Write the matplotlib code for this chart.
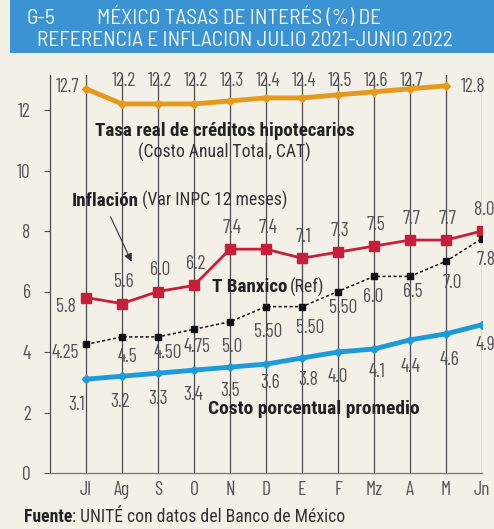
import matplotlib
matplotlib.use("Agg")
import matplotlib.pyplot as plt
from matplotlib import font_manager as fm
from matplotlib.patches import Rectangle
import numpy as np

names = {f.name for f in fm.fontManager.ttflist}
def pick(cands):
    for c in cands:
        if c in names:
            return c
    return "DejaVu Sans"

NUMF = pick(["Barlow Condensed", "Roboto Condensed", "PT Sans Narrow", "Archivo Narrow", "Oswald"])
ANNF = pick(["Roboto Condensed", "Barlow Semi Condensed", "PT Sans Narrow", "Archivo Narrow"])
TITF = pick(["Barlow Semi Condensed", "Barlow Condensed", "Roboto Condensed"])
plt.rcParams['font.family'] = [NUMF, 'DejaVu Sans']

months = ["Jl", "Ag", "S", "O", "N", "D", "E", "F", "Mz", "A", "M", "Jn"]
cat = [12.7, 12.2, 12.2, 12.2, 12.3, 12.4, 12.4, 12.5, 12.6, 12.7, 12.8, np.nan]
inflacion = [5.8, 5.6, 6.0, 6.2, 7.4, 7.4, 7.1, 7.3, 7.5, 7.7, 7.7, 8.0]
banxico = [4.25, 4.5, 4.5, 4.75, 5.0, 5.5, 5.5, 6.0, 6.5, 6.5, 7.0, 7.75]
banxico_labels = ["4.25", "4.5", "4.50", "4.75", "5.0", "5.50", "5.50", "5.50", "6.0", "6.5", "7.0", "7.8"]
cpp = [3.1, 3.2, 3.3, 3.4, 3.5, 3.6, 3.8, 4.0, 4.1, 4.4, 4.6, 4.9]
yticks = [0, 2, 4, 6, 8, 10, 12]

BG = "#f3f0e8"
ORANGE = "#e39a1e"
RED = "#c61f3c"
BLUE = "#1f9ad8"
GRAYTXT = "#555555"

fig = plt.figure(figsize=(4.94, 5.29), dpi=100, facecolor=BG)
ax = fig.add_axes([50/494, 1-473/529, 432/494, (473-75)/529])
ax.set_facecolor(BG)
x = np.arange(len(months))
ax.set_xlim(-1, 11)
ax.set_ylim(0, (473-75)/30.25)

for xi in x:
    ax.axvline(xi, color="#4a4a4a", lw=0.9, zorder=1)

for s in ["top", "right"]:
    ax.spines[s].set_visible(False)
ax.spines["left"].set_color("#4a4a4a")
ax.spines["bottom"].set_color("#777777")
ax.spines["left"].set_linewidth(0.9)
ax.spines["bottom"].set_linewidth(0.9)

ax.set_yticks(yticks)
ax.set_yticklabels([str(v) for v in yticks], fontsize=14, color=GRAYTXT)
ax.tick_params(axis="y", length=4, color="#555555", pad=10)
ax.set_xticks(x)
ax.set_xticklabels(months, fontsize=14, color=GRAYTXT)
ax.tick_params(axis="x", length=0, pad=6)

# series
ax.plot(x, cat, color=ORANGE, lw=3.5, marker="D", ms=4, zorder=4, solid_capstyle="round")
ax.plot(x, inflacion, color=RED, lw=2.0, marker="s", ms=6.5, zorder=4)
ax.plot(x, banxico, color="#111111", lw=1.1, ls=(0, (2, 1.6)), marker="s", ms=4.5, zorder=4)
ax.plot(x, cpp, color=BLUE, lw=3.5, marker="D", ms=4, zorder=4)

lab = dict(fontsize=14, color=GRAYTXT, ha="center", va="center", zorder=6)

# orange labels
for i, v in enumerate(cat):
    if np.isnan(v):
        continue
    if i == 0:
        ax.text(i - 0.5, v + 0.05, f"{v:.1f}", **lab)
    elif i == 10:
        ax.text(i + 0.75, v - 0.05, f"{v:.1f}", **lab)
    else:
        ax.text(i + 0.05, 12.95, f"{v:.1f}", **lab)

# red labels
for i, v in enumerate(inflacion):
    if i == 0:
        ax.text(i - 0.55, v - 0.3, f"{v:.1f}", **lab)
    else:
        ax.text(i + 0.05, v + 0.7, f"{v:.1f}", **lab)

# banxico labels: offsets from each point (as printed in the source)
bx_off = [(-0.58, -0.28), (0.14, -0.67), (0.28, -0.53), (0.08, -0.58), (0.06, -0.83),
          (0.06, -0.84), (0.22, -0.71), (0.14, -0.55), (-0.03, -0.68), (0.08, -0.52),
          (0.17, -0.72), (0.1, -0.71)]
for i, ((dx, dy), t) in enumerate(zip(bx_off, banxico_labels)):
    ax.text(i + dx, banxico[i] + dy, t, **lab)

# blue labels
cp_off = [(-0.25, -0.85), (-0.06, -0.85), (0.0, -0.85), (-0.03, -0.82), (0.0, -0.8),
          (0.1, -0.63), (0.17, -0.73), (0.0, -0.83), (0.08, -0.76), (0.0, -0.9),
          (0.1, -0.86), (0.1, -0.67)]
for i, (dx, dy) in enumerate(cp_off):
    ax.text(i + dx, cpp[i] + dy, f"{cpp[i]:.1f}", **lab)

fig.canvas.draw()
rend = fig.canvas.get_renderer()

def pair(x0, y0, bold, normal, size_b, size_n, tr, gap=3):
    t1 = fig.text(x0, y0, bold, fontsize=size_b, fontweight="bold", color="#222222",
                  ha="left", va="center", family=[ANNF, 'DejaVu Sans'], transform=tr, zorder=6)
    bb = t1.get_window_extent(renderer=rend)
    nx_disp = bb.x1 + gap
    nx, _ = tr.inverted().transform((nx_disp, tr.transform((x0, y0))[1]))
    fig.text(nx, y0, normal, fontsize=size_n, color="#333333", ha="left", va="center",
             family=[ANNF, 'DejaVu Sans'], transform=tr, zorder=6)

AF = dict(family=[ANNF, 'DejaVu Sans'], ha="left", va="center", zorder=6)
ax.text(0.25, 11.32, "Tasa real de créditos hipotecarios", fontsize=13.7, fontweight="bold",
        color="#222222", **AF)
ax.text(1.45, 10.6, "(Costo Anual Total, CAT)", fontsize=12.7, color="#333333", **AF)
pair(-0.4, 9.0, "Inflación", "(Var INPC 12 meses)", 13.7, 12.7, ax.transData)
ax.annotate("", xy=(1.3, 6.9), xytext=(0.65, 8.55),
            arrowprops=dict(arrowstyle="-|>", color="#333333", lw=0.8, mutation_scale=12), zorder=6)
pair(3.5, 6.15, "T Banxico", "(Ref)", 13.7, 12.7, ax.transData)
ax.text(3.4, 2.1, "Costo porcentual promedio", fontsize=14, fontweight="bold",
        color="#222222", **AF)

# title banner
fig.patches.append(Rectangle((10/494, 1-53/529), 484/494, 53/529, transform=fig.transFigure,
                             facecolor="#3b93d3", edgecolor="none", zorder=0))
TT = "#eef3df"
TK = dict(fontsize=15.5, color=TT, ha="left", va="center", family=[TITF, 'DejaVu Sans'])
fig.text(27/494, 1-18/529, "G-5", **TK)
fig.text(97/494, 1-18/529, "MÉXICO TASAS DE INTERÉS (%) DE", **TK)
fig.text(37/494, 1-40/529, "REFERENCIA E INFLACION JULIO 2021-JUNIO 2022", **TK)

# footer
pair(24/494, 1-517/529, "Fuente", ": UNITÉ con datos del Banco de México", 12.7, 12.7,
     fig.transFigure, gap=0)

fig.savefig("out.png", dpi=100, facecolor=BG)
